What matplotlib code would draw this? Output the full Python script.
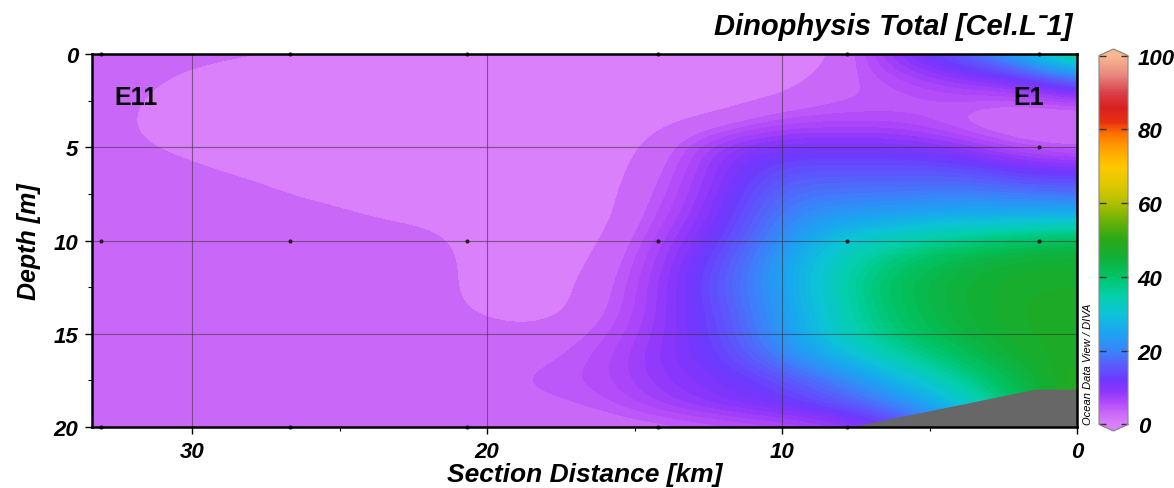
import numpy as np
import matplotlib
matplotlib.use("Agg")
import matplotlib.pyplot as plt
from matplotlib.colors import LinearSegmentedColormap, ListedColormap, Normalize, BoundaryNorm
from matplotlib.cm import ScalarMappable
from matplotlib.patches import Polygon

plt.rcParams['font.family'] = ['Liberation Sans', 'DejaVu Sans']

# ---- data ----
title = "Dinophysis Total [Cel.L\u02c91]"
grid_km = [0, 2, 4, 6, 8, 10, 12, 14, 16, 18, 20, 22, 24, 26, 28, 30, 32, 34]
grid_depth = [0, 1.25, 2.5, 3.75, 5, 6.25, 7.5, 8.75, 10, 11.25, 12.5, 13.75, 15, 16.25, 17.5, 18.75, 20]
# concentration read from the section (rows = depth, columns = distance)
conc = [
    [42, 26, 16, 10, 1.5, 1, 1, 1, 1, 1, 1.5, 1.5, 2, 2, 2.2, 2.6, 3, 3.2],
    [20, 11, 9, 6, 3, 1, 1, 1, 1, 1, 1, 1, 1, 1, 1, 1.6, 2.6, 3.2],
    [6, 4, 5, 4, 4, 2.2, 1, 1, 1, 1, 1, 1, 1, 1, 1, 1.2, 2.1, 3.2],
    [1, 1.2, 3.5, 6, 6, 6, 3, 1.5, 1, 1, 1, 1, 1, 1, 1, 1.2, 1.9, 3.2],
    [3.5, 5, 9, 11, 11, 11, 9, 2.5, 1, 1, 1, 1, 1, 1, 1, 1.6, 2.2, 3.2],
    [11, 12, 15, 15, 15, 15, 10, 3.5, 1, 1, 1, 1, 1, 1, 1.6, 2.3, 2.8, 3.2],
    [18, 19, 20, 19, 19, 18, 10.5, 4.5, 1, 1, 1, 1, 1, 1.6, 2.6, 3, 3.2, 3.2],
    [28, 27, 27, 25, 24, 20, 11.5, 5.5, 1, 1, 1, 1.5, 2, 3, 3, 3, 3.2, 3.2],
    [43, 41, 38, 35, 31, 22, 13, 7, 1.5, 1, 1, 2.6, 3, 3, 3, 3, 3.2, 3.2],
    [46, 46, 44, 40, 34, 24, 15, 8, 2.2, 1, 1, 3, 3, 3, 3, 3, 3.2, 3.2],
    [47, 47, 45, 42, 35, 24, 16, 8.5, 3, 1, 1, 3, 3, 3, 3, 3, 3.2, 3.2],
    [48, 47, 45, 41, 34, 23, 15, 8.5, 3.5, 1, 1.5, 3, 3, 3, 3, 3, 3.2, 3.2],
    [48, 47, 44, 40, 33, 23, 14, 9, 4.5, 2.5, 2.8, 3, 3, 3, 3, 3, 3.2, 3.2],
    [48, 46, 41, 35, 28, 20, 13, 9.5, 5.5, 3.5, 3, 3, 3, 3, 3, 3, 3.2, 3.2],
    [50, 43, 36, 28, 20, 14, 11, 9, 5.5, 4.5, 3.5, 3, 3, 3, 3, 3, 3.2, 3.2],
    [50, 42, 30, 21, 15, 12, 10, 7.5, 4.5, 3.5, 3, 3, 3, 3, 3, 3, 3.2, 3.2],
    [45, 35, 22, 12, 7, 5, 4, 3, 2.5, 2.5, 3, 3, 3, 3, 3, 3, 3.2, 3.2],
]
station_km = [33.1, 26.7, 20.7, 14.2, 7.8, 1.3, 1.3, 33.1, 26.7, 20.7, 14.2, 7.8, 1.3, 33.1, 26.7, 20.7, 14.2, 7.8]
station_depth = [0, 0, 0, 0, 0, 0, 5, 10, 10, 10, 10, 10, 10, 20, 20, 20, 20, 20]
bottom_km = [7.6, 1.4, 0, 0]
bottom_depth = [20, 18.0, 18.0, 20]
station_names = ["E11", "E1"]
name_km = [31.9, 1.65]
name_depth = [2.3, 2.3]
xticks = [30, 20, 10, 0]
yticks = [0, 5, 10, 15, 20]
cticks = [0, 20, 40, 60, 80, 100]

# ---- ODV-like colormap ----
anchors = [(0, '#da80fa'), (3, '#c968f8'), (6, '#b048fa'), (9, '#8c36fc'), (12, '#6e38ff'),
           (16, '#5a5cfc'), (20, '#3a84fa'), (25, '#1aa6f0'), (30, '#0cc4d8'), (35, '#04d0a8'),
           (40, '#00c468'), (45, '#10b038'), (50, '#2aa818'), (55, '#68b008'), (60, '#b0c000'),
           (65, '#e0c800'), (70, '#ffc800'), (75, '#ffa000'), (79, '#ff7000'), (82, '#e83010'),
           (86, '#d82020'), (90, '#d84048'), (95, '#e88a80'), (100, '#f8b890')]
cmap_c = LinearSegmentedColormap.from_list('odv', [(v / 100, c) for v, c in anchors], N=512)
cmap_c.set_under(anchors[0][1]); cmap_c.set_over(anchors[-1][1])
norm = Normalize(0, 100)

# contour-like bands for the section: two wide low bands, then 1-unit steps
levels = np.array([0, 2, 4] + list(range(5, 101)), float)
centers = (levels[:-1] + levels[1:]) / 2
centers[0] = 0.0
cmap_d = ListedColormap(cmap_c(norm(centers)))
cmap_d.set_under(anchors[0][1]); cmap_d.set_over(anchors[-1][1])
bnorm = BoundaryNorm(levels, cmap_d.N)

bi = dict(fontweight='bold', fontstyle='italic')

fig = plt.figure(figsize=(11.74, 4.89), dpi=100)
ax = fig.add_axes([92 / 1174, 61 / 489, 985 / 1174, 373 / 489])

dx = (grid_km[1] - grid_km[0]) / 2
dy = (grid_depth[1] - grid_depth[0]) / 2
ax.imshow(np.array(conc, float), cmap=cmap_d, norm=bnorm, interpolation='bicubic',
          origin='upper', aspect='auto',
          extent=(grid_km[0] - dx, grid_km[-1] + dx, grid_depth[-1] + dy, grid_depth[0] - dy))

ax.add_patch(Polygon(list(zip(bottom_km, bottom_depth)), closed=True, facecolor='#676767',
                     edgecolor='none', zorder=3))

ax.set_xlim(33.4, 0)
ax.set_ylim(20, 0)
ax.set_xticks(xticks)
ax.set_yticks(yticks)
ax.set_xticks([25, 15, 5], minor=True)
ax.set_yticks([2.5, 7.5, 12.5, 17.5], minor=True)
ax.grid(True, which='major', color='#303030', alpha=0.55, linewidth=0.8)
ax.set_axisbelow(False)

ax.scatter(station_km, station_depth, s=9, color='#222222', zorder=4, clip_on=False, linewidths=0)

for n, xk, yd in zip(station_names, name_km, name_depth):
    ax.text(xk, yd, n, fontsize=18, fontweight='bold', ha='center', va='center', zorder=5)

for s in ax.spines.values():
    s.set_linewidth(1.8)
    s.set_zorder(6)
ax.tick_params(which='major', direction='out', length=5, width=1, pad=5)
ax.tick_params(which='minor', direction='out', length=3, width=0.8)
for lab in ax.get_xticklabels() + ax.get_yticklabels():
    lab.set_fontsize(16)
    lab.set_fontweight('bold')
    lab.set_fontstyle('italic')

ax.set_xlabel("Section Distance [km]", fontsize=19, labelpad=0, **bi)
ax.set_ylabel("Depth [m]", fontsize=18, labelpad=9, **bi)

fig.text(1073 / 1174, 1 - 27 / 489, title, fontsize=21, ha='right', va='center', **bi)

# colorbar
cax = fig.add_axes([1099 / 1174, 57 / 489, 29 / 1174, 382 / 489])
cb = fig.colorbar(ScalarMappable(norm=norm, cmap=cmap_c), cax=cax, extend='both',
                  extendfrac=0.018, ticks=cticks)
cb.outline.set_edgecolor('#888888')
cb.outline.set_linewidth(0.8)
cax.tick_params(direction='in', length=5, width=1, color='#333333', left=True, right=True, pad=7)
for lab in cax.get_yticklabels():
    lab.set_fontsize(16)
    lab.set_fontweight('bold')
    lab.set_fontstyle('italic')
fig.text(1088 / 1174, 1 - 425 / 489, "Ocean Data View / DIVA", rotation=90, fontsize=8,
         fontstyle='italic', ha='center', va='bottom')

fig.savefig("out.png", dpi=100)
